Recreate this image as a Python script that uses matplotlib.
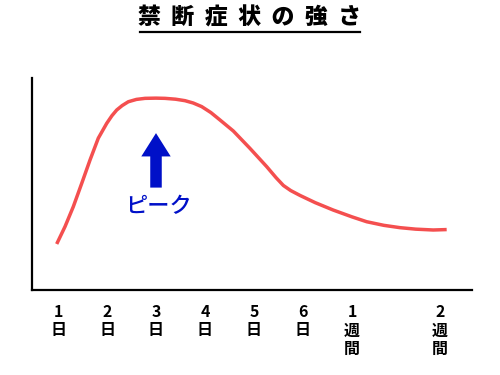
import matplotlib.pyplot as plt
from matplotlib.lines import Line2D

plt.rcParams['font.family'] = ['Noto Sans CJK JP', 'DejaVu Sans']

# 目盛り（日数）と表示ラベル
tick_pos = [1, 2, 3, 4, 5, 6, 7, 8.8]
tick_labels = ["1\n日", "2\n日", "3\n日", "4\n日", "5\n日", "6\n日", "1\n週\n間", "2\n週\n間"]

# 禁断症状の強さ
x_days = [0.973, 1.143, 1.312, 1.484, 1.653, 1.822, 1.994, 2.10, 2.198, 2.31,
          2.435, 2.60, 2.776, 3.0, 3.184, 3.40, 3.592, 3.76, 3.933, 4.12,
          4.306, 4.578, 4.918, 5.259, 5.45, 5.60, 5.75, 5.94, 6.25, 6.618,
          7.0, 7.300, 7.65, 7.980, 8.30, 8.659, 8.933]
strength = [21.7, 29.9, 39.3, 50.3, 61.3, 71.6, 78.6, 82.2, 84.9, 87.0,
            88.8, 89.9, 90.4, 90.5, 90.4, 90.0, 89.3, 88.2, 86.5, 83.7,
            80.2, 75.0, 66.8, 58.2, 53.0, 49.3, 46.9, 44.6, 41.2, 37.7,
            34.5, 32.2, 30.5, 29.4, 28.7, 28.3, 28.5]

# ピーク矢印
peak_x = 3.0
arrow_base = 48.3
arrow_top = 74.0

fig = plt.figure(figsize=(5, 3.75), dpi=100)
ax = fig.add_axes([0.064, 0.2267, 0.88, 0.5653])

ax.plot(x_days, strength, color="#f44f4f", linewidth=2.5, solid_capstyle="butt",
        solid_joinstyle="round")

ax.arrow(peak_x, arrow_base, 0, arrow_top - arrow_base, width=0.235,
         head_width=0.60, head_length=11.0, length_includes_head=True,
         color="#0010c8", linewidth=0)
ax.text(3.06, 39.3, "ピーク", color="#0010c8", fontsize=16, fontweight="medium",
        ha="center", va="center")

ax.set_xlim(0.469, 9.45)
ax.set_ylim(0, 100)
ax.set_xticks(tick_pos)
ax.set_xticklabels(tick_labels, fontsize=11.5, fontweight="bold", linespacing=1.2, va="top")
ax.set_yticks([])
ax.tick_params(axis="x", length=0, pad=10)
ax.spines["top"].set_visible(False)
ax.spines["right"].set_visible(False)
ax.spines["left"].set_linewidth(1.6)
ax.spines["bottom"].set_linewidth(1.6)

# タイトル（下線付き）
fig.text(0.5, 0.951, "禁  断  症  状  の  強  さ", fontsize=16.5, fontweight="heavy",
         ha="center", va="center")
fig.add_artist(Line2D([0.28, 0.72], [0.915, 0.915], color="black", linewidth=1.6))

plt.savefig("out.png", dpi=100)
